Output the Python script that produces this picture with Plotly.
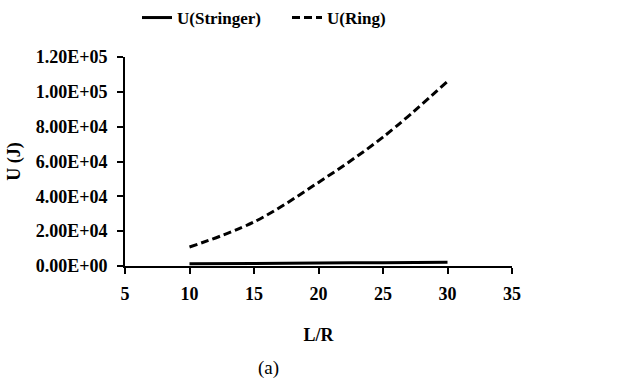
import plotly.graph_objects as go

lr = [10, 15, 20, 25, 30]
u_stringer = [1300, 1500, 1700, 1900, 2100]
u_ring = [10900, 25300, 48000, 74000, 106000]

y_tickvals = [0, 20000, 40000, 60000, 80000, 100000, 120000]
y_ticktext = ["0.00E+00", "2.00E+04", "4.00E+04", "6.00E+04", "8.00E+04", "1.00E+05", "1.20E+05"]
x_tickvals = [5, 10, 15, 20, 25, 30, 35]

FONT = "Times New Roman, Liberation Serif, serif"

fig = go.Figure()
fig.add_trace(go.Scatter(x=lr, y=u_stringer, mode="lines", name="<b>U(Stringer)</b>",
                         legend="legend",
                         line=dict(color="black", width=3, shape="spline")))
fig.add_trace(go.Scatter(x=lr, y=u_ring, mode="lines", name="<b>U(Ring)</b>",
                         legend="legend2",
                         line=dict(color="black", width=3, dash="8px,4px", shape="spline")))

leg_common = dict(orientation="h", xanchor="left", y=1, yref="container", yanchor="top",
                  font=dict(family=FONT, size=17, color="black"), bgcolor="rgba(0,0,0,0)")

fig.update_layout(
    width=619, height=381,
    margin=dict(l=125, r=107, t=57, b=115),
    paper_bgcolor="white", plot_bgcolor="white",
    font=dict(family=FONT, color="black", size=16),
    showlegend=True,
    legend=dict(x=(137 - 125) / 387, **leg_common),
    legend2=dict(x=(287 - 125) / 387, **leg_common),
    xaxis=dict(range=[5, 35], tickvals=x_tickvals, showgrid=False, zeroline=False,
               showline=True, linecolor="black", linewidth=2, ticks="outside", ticklen=6,
               tickwidth=2, tickcolor="black", ticklabelstandoff=4,
               tickfont=dict(family=FONT, size=18, color="black", weight="bold"),
               title=dict(text="<b>L/R</b>", font=dict(family=FONT, size=18), standoff=26)),
    yaxis=dict(range=[0, 120000], tickvals=y_tickvals, ticktext=y_ticktext, showgrid=False,
               zeroline=False, showline=True, linecolor="black", linewidth=2, ticks="outside",
               ticklen=6, tickwidth=2, tickcolor="black", ticklabelstandoff=6,
               tickfont=dict(family=FONT, size=18, color="black", weight="bold"),
               title=dict(text="<b>U (J)</b>", font=dict(family=FONT, size=18), standoff=10)),
    annotations=[dict(text="(a)", xref="paper", yref="paper", x=(268 - 125) / 387, y=-0.49,
                      xanchor="center", yanchor="middle", showarrow=False,
                      font=dict(family=FONT, size=19, color="black"))],
)

fig.write_html("out.html")
